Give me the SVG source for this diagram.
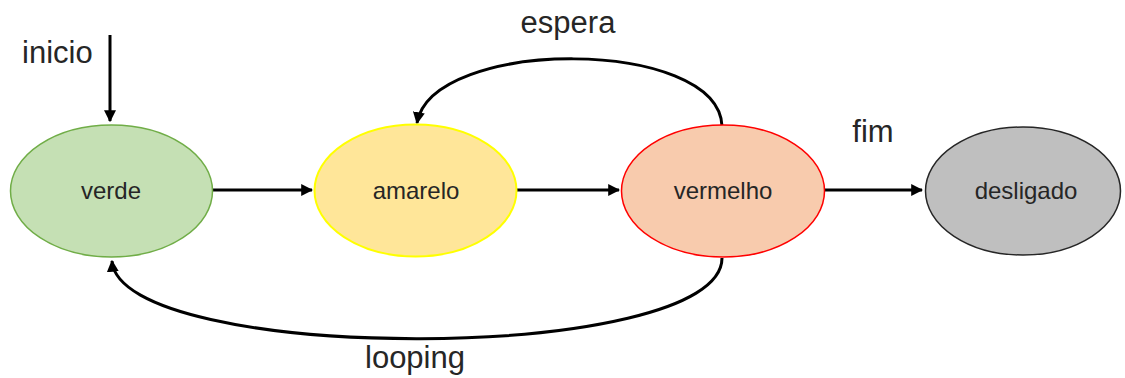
<svg xmlns="http://www.w3.org/2000/svg" width="1125" height="378" viewBox="0 0 1125 378">
<style>
.lbl{font-family:"Liberation Sans",Arial,sans-serif;font-size:31px;fill:#262626}
.nl{font-family:"Liberation Sans",Arial,sans-serif;font-size:24px;fill:#262626;text-anchor:middle}
.edge{fill:none;stroke:#000;stroke-width:3;marker-end:url(#ah)}
</style>
<defs>
<marker id="ah" viewBox="0 0 10 10" refX="9" refY="5" markerWidth="4" markerHeight="4" orient="auto" markerUnits="strokeWidth">
<path d="M0,0 L10,5 L0,10 z" fill="#000"/>
</marker>
</defs>
<g id="connectors">
<path class="edge" d="M110,35 L110,121"/>
<path class="edge" d="M213,190 L312,190"/>
<path class="edge" d="M517,190 L619,190"/>
<path class="edge" d="M825,190 L922,190"/>
<path class="edge" d="M722,126 C718,37 432,37 417,123"/>
<path class="edge" d="M722,258 C722,365 120,365 112,261"/>
</g>
<g id="verde">
<ellipse cx="111.5" cy="191" rx="101" ry="66" fill="#c5e0b4" stroke="#70ad47" stroke-width="1.5"/>
<text class="nl" x="111" y="199">verde</text>
</g>
<g id="amarelo">
<ellipse cx="415.5" cy="190.5" rx="101" ry="66" fill="#ffe699" stroke="#ffff00" stroke-width="2"/>
<text class="nl" x="416" y="199">amarelo</text>
</g>
<g id="vermelho">
<ellipse cx="723" cy="191" rx="101.5" ry="66" fill="#f8cbad" stroke="#ff0000" stroke-width="1.5"/>
<text class="nl" x="723" y="199">vermelho</text>
</g>
<g id="desligado">
<ellipse cx="1023" cy="191" rx="97.5" ry="64" fill="#bfbfbf" stroke="#262626" stroke-width="1.5"/>
<text class="nl" x="1026" y="199">desligado</text>
</g>
<g id="labels">
<text class="lbl" x="22" y="63">inicio</text>
<text class="lbl" x="568" y="33" text-anchor="middle">espera</text>
<text class="lbl" x="873" y="142" text-anchor="middle">fim</text>
<text class="lbl" x="415" y="368" text-anchor="middle">looping</text>
</g>
</svg>
